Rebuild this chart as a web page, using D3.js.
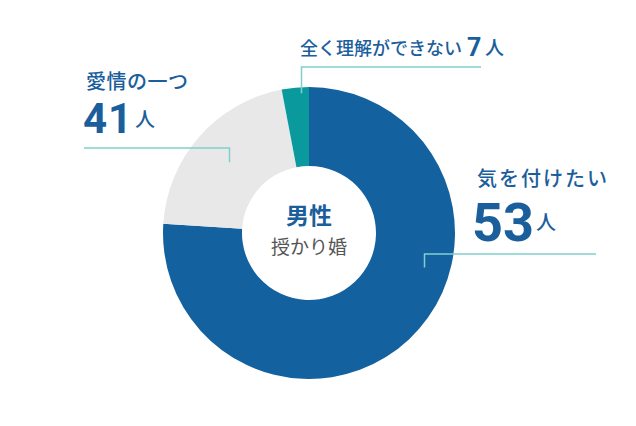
<!DOCTYPE html>
<html>
<head>
<meta charset="utf-8">
<script src="https://cdn.jsdelivr.net/npm/d3@7"></script>
<style>
  body { margin: 0; background: #fff; }
  svg { display: block; }
  .jp { font-family: "Noto Sans CJK JP", sans-serif; }
  .num { font-family: Roboto, "Noto Sans", sans-serif; font-weight: 700; }
</style>
</head>
<body>
<div id="chart"></div>
<script>
// slice shares (%) as drawn, and the counts printed in the labels
const categories = ['気を付けたい', '愛情の一つ', '全く理解ができない'];
const shares = [76, 21, 3];
const counts = [53, 41, 7];
const unit = '人';
const centerTitle = '男性';
const centerSub = '授かり婚';

const width = 636, height = 426;
const cx = 309, cy = 233;
const outerR = 146, innerR = 67;

const blue = '#1461a0';
const textBlue = '#1b5e9c';
const lineColor = '#80cfcd';
const colors = d3.scaleOrdinal().domain(categories).range([blue, '#e8e8e8', '#0a9a9d']);

const svg = d3.select('#chart').append('svg')
    .attr('width', width)
    .attr('height', height);

const g = svg.append('g')
    .attr('transform', `translate(${cx},${cy})`);

const data = categories.map((c, i) => ({ name: c, share: shares[i], count: counts[i] }));

const pie = d3.pie().sort(null).value(d => d.share);
const arcs = pie(data);
const arc = d3.arc().innerRadius(innerR).outerRadius(outerR);

g.selectAll('path.slice')
    .data(arcs)
    .join('path')
    .attr('class', 'slice')
    .attr('d', arc)
    .attr('fill', d => colors(d.data.name));

// center text
g.append('text')
    .attr('class', 'jp')
    .attr('x', 0).attr('y', -9)
    .attr('text-anchor', 'middle')
    .style('font-size', '23px').style('font-weight', 700)
    .style('fill', textBlue)
    .text(centerTitle);

g.append('text')
    .attr('class', 'jp')
    .attr('x', 0).attr('y', 21)
    .attr('text-anchor', 'middle')
    .style('font-size', '19px')
    .style('fill', '#555')
    .text(centerSub);

// label layout: where along the slice the leader starts, elbow and text placement
const layout = [
    { t: 0.39, r: 120, elbowY: 254, endX: 596,
      name: { x: 477, y: 186, size: 20, spacing: 2 },
      num: { x: 472, y: 241, size: 54, spacing: 0 }, unit: { x: 536, y: 230, size: 20 } },
    { t: 0.5, r: 107, elbowY: 148, endX: 84,
      name: { x: 86, y: 89, size: 20, spacing: 0.5 },
      num: { x: 83, y: 133, size: 42, spacing: 1 }, unit: { x: 135, y: 127, size: 20 } },
    { t: 0.7, r: 140, elbowY: 67, endX: 481,
      name: { x: 300, y: 55, size: 18, spacing: 0 },
      num: { x: 467, y: 56, size: 25, spacing: 0 }, unit: { x: 485, y: 55, size: 19 } }
];

const labels = svg.append('g');

arcs.forEach((a, i) => {
    const L = layout[i];
    const ang = a.startAngle + L.t * (a.endAngle - a.startAngle);
    const ax = cx + L.r * Math.sin(ang);
    const ay = cy - L.r * Math.cos(ang);
    const p = d3.path();
    p.moveTo(Math.round(ax) + 0.5, ay);
    p.lineTo(Math.round(ax) + 0.5, L.elbowY);
    p.lineTo(L.endX, L.elbowY);
    labels.append('path')
        .attr('d', p.toString())
        .attr('fill', 'none')
        .attr('stroke', lineColor)
        .attr('stroke-width', 1.5);

    labels.append('text')
        .attr('class', 'jp')
        .attr('x', L.name.x).attr('y', L.name.y)
        .style('font-size', L.name.size + 'px')
        .style('font-weight', 500)
        .style('letter-spacing', L.name.spacing + 'px')
        .style('fill', textBlue)
        .text(a.data.name);

    labels.append('text')
        .attr('class', 'num')
        .attr('x', L.num.x).attr('y', L.num.y)
        .style('font-size', L.num.size + 'px')
        .style('letter-spacing', L.num.spacing + 'px')
        .style('fill', textBlue)
        .text(a.data.count);

    labels.append('text')
        .attr('class', 'jp')
        .attr('x', L.unit.x).attr('y', L.unit.y)
        .style('font-size', L.unit.size + 'px')
        .style('font-weight', 500)
        .style('fill', textBlue)
        .text(unit);
});
</script>
</body>
</html>
